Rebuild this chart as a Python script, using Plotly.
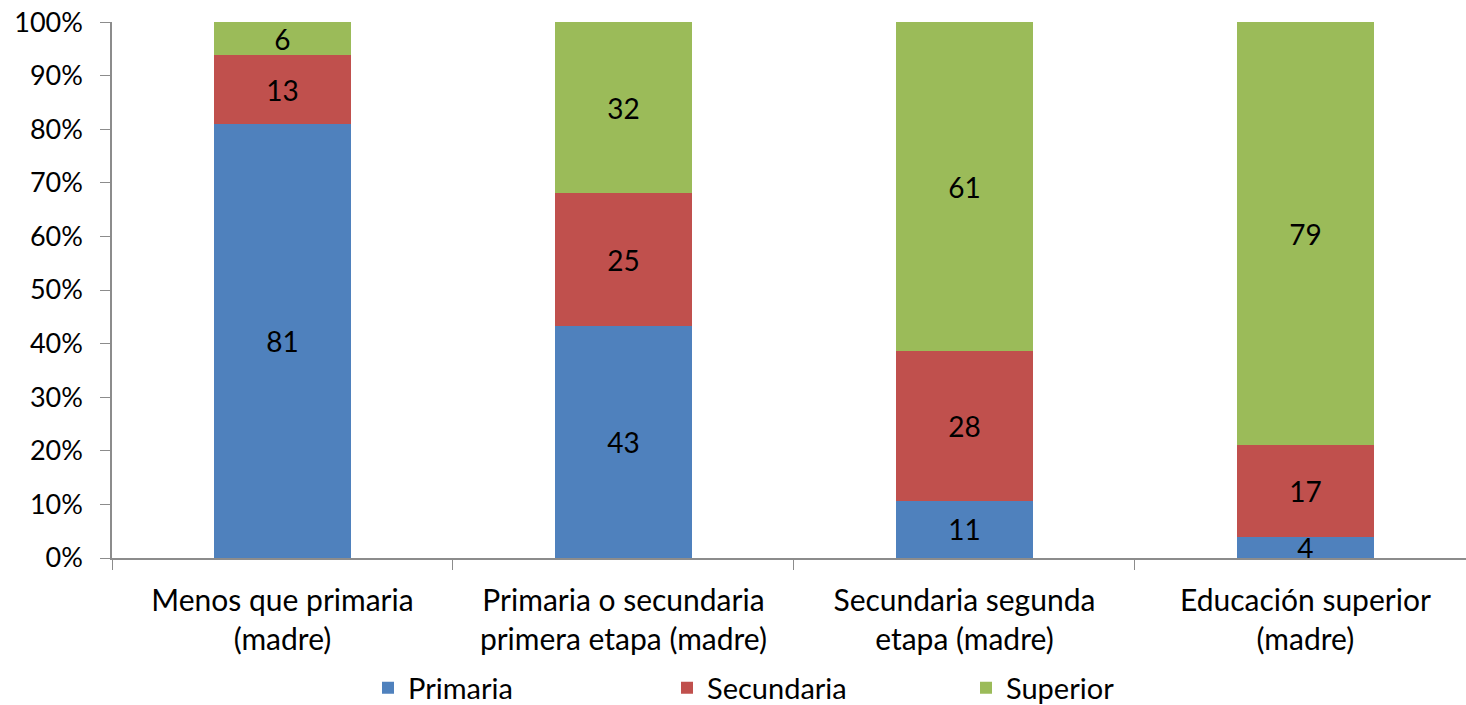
import plotly.graph_objects as go

categories = ["Menos que primaria<br>(madre)",
              "Primaria o secundaria<br>primera etapa (madre)",
              "Secundaria segunda<br>etapa (madre)",
              "Educación superior<br>(madre)"]
primaria = [81.0, 43.2, 10.7, 3.9]
secundaria = [12.8, 24.9, 27.9, 17.1]
superior = [6.2, 31.9, 61.4, 79.0]
labels_primaria = ["81", "43", "11", "4"]
labels_secundaria = ["13", "25", "28", "17"]
labels_superior = ["6", "32", "61", "79"]

font = "Lato, Calibri, Arial, sans-serif"
axis_grey = "#8c8c8c"

fig = go.Figure()
for name, vals, txt, colour in [
    ("Primaria", primaria, labels_primaria, "#4F81BD"),
    ("Secundaria", secundaria, labels_secundaria, "#C0504D"),
    ("Superior", superior, labels_superior, "#9BBB59"),
]:
    fig.add_trace(go.Bar(
        x=categories,
        y=[v / 100 for v in vals],
        name=name,
        text=txt,
        textposition="inside",
        insidetextanchor="middle",
        textangle=0,
        constraintext="none",
        textfont=dict(size=28, color="black", family=font),
        marker=dict(color=colour, line=dict(width=0)),
        width=0.4,
        hoverinfo="skip",
    ))

fig.update_layout(
    barmode="stack",
    width=1466,
    height=705,
    margin=dict(l=112, r=0, t=22, b=147, autoexpand=False),
    plot_bgcolor="white",
    paper_bgcolor="white",
    font=dict(family=font, size=28, color="black"),
    legend=dict(
        orientation="h",
        traceorder="normal",
        x=(368 - 112) / 1354,
        xanchor="left",
        y=-0.2425,
        yanchor="middle",
        entrywidth=254,
        entrywidthmode="pixels",
        font=dict(size=29),
    ),
)
fig.update_xaxes(
    type="category",
    range=[-0.5, 3.471],
    automargin=False,
    showline=True,
    linecolor=axis_grey,
    linewidth=1.5,
    ticks="outside",
    tickson="boundaries",
    ticklen=10,
    tickcolor=axis_grey,
    ticklabelstandoff=15,
    tickfont=dict(size=30),
    showgrid=False,
)
fig.update_yaxes(
    range=[0, 1.0001],
    tickvals=[i / 10 for i in range(11)],
    tickformat=".0%",
    automargin=False,
    ticklabeloverflow="allow",
    showline=True,
    linecolor=axis_grey,
    linewidth=1.5,
    ticks="outside",
    ticklen=10,
    tickcolor=axis_grey,
    ticklabelstandoff=12,
    tickfont=dict(size=27),
    showgrid=False,
    zeroline=False,
)

# drop the default 8px body margin so the figure sits at the page corner
fig.write_html("out.html", config=dict(displayModeBar=False),
               post_script="document.body.style.margin='0';")
